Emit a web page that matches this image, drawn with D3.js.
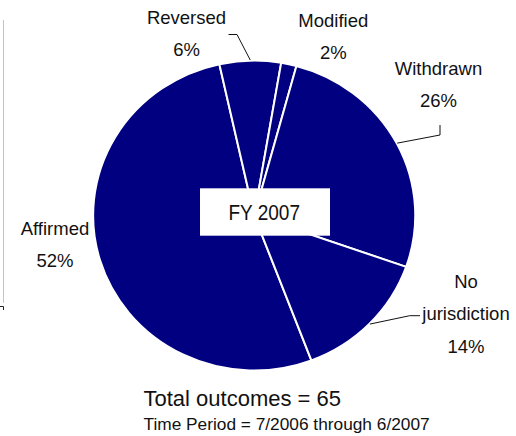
<!DOCTYPE html>
<html>
<head>
<meta charset="utf-8">
<script src="https://cdn.jsdelivr.net/npm/d3@7"></script>
<style>
  html, body { margin: 0; padding: 0; background: #fff; }
  svg { display: block; }
  text { font-family: "Liberation Sans", Arial, sans-serif; fill: #111; }
</style>
</head>
<body>
<svg id="chart" width="516" height="436"></svg>
<script>
// Case outcomes, FY 2007 (counts; percentages derived from the total)
const categories = ["Affirmed", "Reversed", "Modified", "Withdrawn", "No jurisdiction"];
const counts = [34, 4, 1, 17, 9];
const labelLines = [["Affirmed"], ["Reversed"], ["Modified"], ["Withdrawn"], ["No", "jurisdiction"]];
const centerLabel = "FY 2007";
const totalLabel = "Total outcomes = ";
const periodLabel = "Time Period = 7/2006 through 6/2007";

const svg = d3.select("#chart");
const W = 516, H = 436;

// Pie geometry (slightly wider than tall)
const cx = 254.2, cy = 215.5, ry = 154, rx = 160;
const sx = rx / ry;
const startDeg = 159.2;

const total = d3.sum(counts);
const data = categories.map((c, i) => ({ name: c, value: counts[i], lines: labelLines[i] }));

const pie = d3.pie()
  .sort(null)
  .value(d => d.value)
  .startAngle(startDeg * Math.PI / 180)
  .endAngle(startDeg * Math.PI / 180 + 2 * Math.PI);

const arcs = pie(data);
const arc = d3.arc().innerRadius(0).outerRadius(ry + 1);

// stray frame edge on the left
svg.append("line")
  .attr("x1", 3.5).attr("x2", 3.5).attr("y1", 20).attr("y2", 303)
  .attr("stroke", "#c4c4c4").attr("stroke-width", 1);
svg.append("path")
  .attr("d", "M0,306.5H3.5V310")
  .attr("fill", "none").attr("stroke", "#222").attr("stroke-width", 1);

const g = svg.append("g")
  .attr("transform", `translate(${cx},${cy}) scale(${sx},1)`);

g.selectAll("path.slice")
  .data(arcs)
  .join("path")
  .attr("class", "slice")
  .attr("d", arc)
  .attr("fill", "#000080")
  .attr("stroke", "#fff")
  .attr("stroke-width", 2)
  .attr("vector-effect", "non-scaling-stroke");

// point on the rim at a slice's mid-angle
function rimPoint(a, k) {
  const m = (a.startAngle + a.endAngle) / 2;
  return [cx + rx * k * Math.sin(m), cy - ry * k * Math.cos(m)];
}

// label placement per category
const layout = {
  "Affirmed":        { x: 55,    y: 235,   leader: null },
  "Reversed":        { x: 186.5, y: 24,    leader: [[228.5, 34.5], [237, 34.5]] },
  "Modified":        { x: 333.3, y: 26.7,  leader: null },
  "Withdrawn":       { x: 438.5, y: 75,    leader: [[440, 125], [440, 135]] },
  "No jurisdiction": { x: 466,   y: 288,   leader: [[420, 315.7], [409.7, 315.7]] }
};
const lineGap = 32.3;
const fmtPct = v => Math.round(v / total * 100) + "%";

arcs.forEach(a => {
  const L = layout[a.data.name];
  const t = svg.append("text")
    .attr("text-anchor", "middle")
    .attr("font-size", 18.5);
  const lines = a.data.lines.concat([fmtPct(a.data.value)]);
  lines.forEach((s, i) => {
    t.append("tspan").attr("x", L.x).attr("y", L.y + i * lineGap).text(s);
  });
  if (L.leader) {
    const pts = L.leader.concat([rimPoint(a, 1.01)]);
    svg.append("path")
      .attr("d", d3.line()(pts))
      .attr("fill", "none")
      .attr("stroke", "#111")
      .attr("stroke-width", 1);
  }
});

// center tag
svg.append("rect")
  .attr("x", 200).attr("y", 188.3).attr("width", 130).attr("height", 47.4)
  .attr("fill", "#fff");
svg.append("text")
  .attr("x", 228.5).attr("y", 220)
  .attr("font-size", 22.5)
  .attr("textLength", 71.5)
  .attr("lengthAdjust", "spacingAndGlyphs")
  .text(centerLabel);

// footer
svg.append("text")
  .attr("x", 143.5).attr("y", 405.5)
  .attr("font-size", 22)
  .text(totalLabel + total);
svg.append("text")
  .attr("x", 143.5).attr("y", 429.5)
  .attr("font-size", 17.3)
  .text(periodLabel);
</script>
</body>
</html>
